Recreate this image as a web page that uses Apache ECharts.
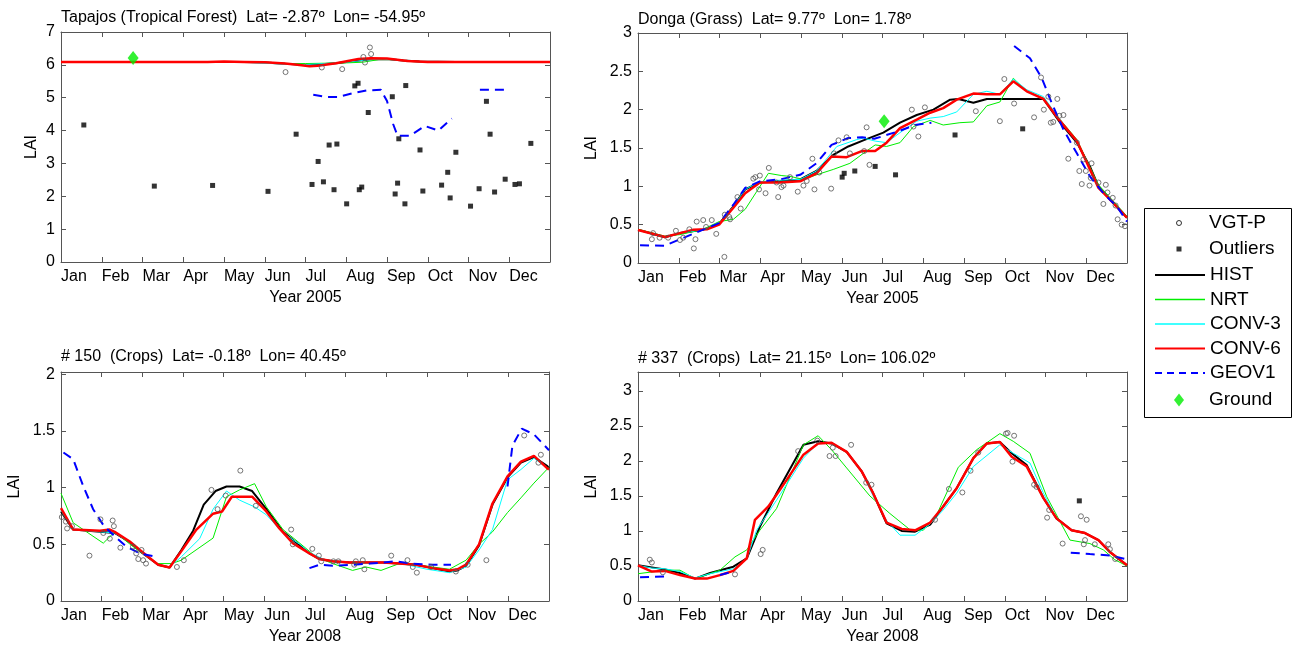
<!DOCTYPE html>
<html><head><meta charset="utf-8">
<script src="https://cdn.jsdelivr.net/npm/echarts@6/dist/echarts.min.js"></script>
<style>html,body{margin:0;padding:0;background:#fff}#c{width:1295px;height:653px}</style>
</head><body><div id="c"></div>
<script>
// ---------- tick labels / titles ----------
const monthLabels = ['Jan','Feb','Mar','Apr','May','Jun','Jul','Aug','Sep','Oct','Nov','Dec'];
const panelTitles = [
  'Tapajos (Tropical Forest)  Lat= -2.87º  Lon= -54.95º',
  'Donga (Grass)  Lat= 9.77º  Lon= 1.78º',
  '# 150  (Crops)  Lat= -0.18º  Lon= 40.45º',
  '# 337  (Crops)  Lat= 21.15º  Lon= 106.02º'
];
const panelYears = ['Year 2005','Year 2005','Year 2008','Year 2008'];

// ---------- Top-left: Tapajos ----------
const tlHIST = [[3.6,6.09],[4.5,6.09],[5.0,6.07],[5.5,6.03],[6.0,6.0],[6.4,6.02],[6.8,6.06],[7.2,6.12],[7.6,6.17],[8.0,6.18],[8.4,6.13],[8.8,6.1],[9.7,6.09]];
const tlNRT = [[3.6,6.09],[4.5,6.09],[5.0,6.07],[5.5,6.04],[6.0,6.04],[6.5,6.05],[7.0,6.06],[7.4,6.08],[7.8,6.16],[8.2,6.16],[8.6,6.1],[9.7,6.09]];
const tlCONV3 = [[3.6,6.08],[4.5,6.08],[5.0,6.05],[5.5,6.02],[6.0,6.01],[6.5,6.04],[7.0,6.08],[7.5,6.15],[7.9,6.18],[8.3,6.14],[8.7,6.1],[9.7,6.09]];
const tlCONV6 = [[0,6.09],[3.6,6.09],[4.0,6.1],[4.5,6.09],[5.0,6.08],[5.5,6.04],[5.8,6.0],[6.1,5.96],[6.3,5.97],[6.75,6.05],[7.3,6.18],[7.6,6.2],[8.0,6.19],[8.5,6.12],[9.0,6.09],[12,6.09]];
const tlGEOV1 = [[6.19,5.09],[6.52,5.02],[6.80,5.02],[7.17,5.14],[7.50,5.22],[7.85,5.24],[8.0,4.9],[8.15,4.2],[8.26,3.84],[8.56,3.84],[8.93,4.14],[9.26,4.0],[9.59,4.37],null,[10.28,5.24],[10.98,5.24]];
const tlVGT = [[5.51,5.78],[6.40,5.92],[6.90,5.87],[7.42,6.24],[7.46,6.07],[7.58,6.53],[7.61,6.33]];
const tlOutliers = [[0.56,4.17],[2.29,2.31],[3.72,2.33],[5.08,2.15],[5.77,3.89],[6.16,2.36],[6.31,3.06],[6.44,2.44],[6.58,3.56],[6.70,2.20],[6.77,3.59],[7.01,1.77],[7.21,5.36],[7.29,5.44],[7.32,2.20],[7.38,2.28],[7.54,4.55],[8.13,5.03],[8.20,2.07],[8.26,2.40],[8.29,3.75],[8.44,1.77],[8.46,5.37],[8.81,3.41],[8.88,2.16],[9.34,2.34],[9.49,2.73],[9.55,1.95],[9.69,3.34],[10.05,1.70],[10.26,2.23],[10.44,4.89],[10.53,3.89],[10.64,2.13],[10.90,2.52],[11.14,2.36],[11.25,2.38],[11.53,3.61]];
const tlGround = [[1.77,6.21]];

// ---------- Top-right: Donga ----------
const trHIST = [[0,0.435],[0.66,0.335],[1.03,0.39],[1.6,0.435],[1.99,0.51],[2.34,0.74],[2.63,0.96],[2.99,1.05],[3.48,1.065],[3.98,1.09],[4.38,1.2],[4.79,1.41],[5.16,1.52],[5.53,1.6],[6.02,1.7],[6.43,1.83],[6.84,1.93],[7.25,2.0],[7.66,2.13],[7.86,2.14],[8.23,2.09],[8.56,2.14],[8.97,2.14],[9.95,2.14],[10.36,1.83],[10.77,1.57],[11.09,1.26],[11.3,1.0],[11.58,0.83],[12,0.59]];
const trNRT = [[0,0.44],[0.66,0.35],[1.03,0.37],[1.6,0.44],[1.99,0.54],[2.34,0.57],[2.63,0.70],[2.91,0.93],[3.2,1.17],[3.53,1.14],[3.73,1.13],[4.06,1.09],[4.38,1.15],[4.79,1.22],[5.2,1.30],[5.53,1.43],[5.82,1.54],[6.10,1.52],[6.43,1.57],[6.76,1.78],[7.17,1.86],[7.49,1.80],[7.90,1.83],[8.23,1.84],[8.56,2.05],[8.88,2.10],[9.21,2.41],[9.54,2.24],[9.95,2.15],[10.36,1.87],[10.77,1.61],[11.3,1.02],[12,0.61]];
const trCONV3 = [[0,0.43],[0.66,0.34],[1.03,0.39],[1.6,0.435],[1.99,0.51],[2.34,0.74],[2.63,0.96],[2.99,1.06],[3.48,1.08],[3.98,1.09],[4.38,1.2],[4.88,1.52],[5.37,1.61],[5.53,1.63],[5.82,1.59],[6.10,1.57],[6.43,1.70],[6.84,1.85],[7.17,1.89],[7.49,1.91],[7.82,1.97],[8.23,2.2],[8.56,2.24],[8.88,2.2],[9.21,2.4],[9.54,2.26],[9.95,2.17],[10.36,1.87],[10.77,1.58],[11.3,0.99],[11.58,0.84],[12,0.59]];
const trCONV6 = [[0,0.43],[0.66,0.34],[1.03,0.39],[1.36,0.435],[1.69,0.44],[1.99,0.5],[2.34,0.72],[2.63,0.91],[2.99,1.05],[3.48,1.05],[3.98,1.065],[4.38,1.17],[4.75,1.39],[5.12,1.38],[5.49,1.46],[5.82,1.46],[6.10,1.57],[6.43,1.76],[6.84,1.87],[7.17,1.96],[7.49,2.02],[7.82,2.13],[8.23,2.21],[8.56,2.20],[8.88,2.20],[9.21,2.37],[9.54,2.24],[9.95,2.14],[10.36,1.85],[10.77,1.59],[11.3,0.98],[11.58,0.83],[12,0.59]];
const trGEOV1 = [[0.05,0.23],[0.66,0.226],[1.03,0.31],[1.6,0.435],[1.99,0.52],[2.34,0.76],[2.63,0.98],[2.99,1.065],[3.48,1.09],[3.98,1.15],[4.38,1.30],[4.75,1.54],[5.16,1.63],[5.5,1.64],[5.8,1.62],[6.4,1.72],[6.8,1.80],[7.2,1.83],null,[9.23,2.83],[9.62,2.67],[9.91,2.41],[10.15,2.09],[10.44,1.74],[10.77,1.43],[11.09,1.13],[11.42,0.91],[11.75,0.74],[12,0.54]];
const trVGT = [[0.34,0.31],[0.37,0.39],[0.53,0.33],[0.74,0.33],[0.93,0.42],[1.03,0.30],[1.11,0.33],[1.26,0.44],[1.37,0.19],[1.41,0.31],[1.44,0.54],[1.60,0.56],[1.67,0.47],[1.81,0.56],[1.92,0.38],[2.12,0.08],[2.13,0.63],[2.24,0.60],[2.26,0.57],[2.44,0.86],[2.52,0.71],[2.83,1.10],[2.88,1.12],[2.99,1.14],[2.97,0.96],[3.13,0.91],[3.21,1.24],[3.44,0.86],[3.40,1.05],[3.52,0.99],[3.57,1.01],[3.73,1.12],[3.92,0.93],[4.06,1.01],[4.14,1.07],[4.28,1.36],[4.33,0.96],[4.45,1.18],[4.74,0.97],[4.81,1.43],[4.92,1.60],[5.12,1.64],[5.20,1.43],[5.55,1.46],[5.61,1.77],[5.68,1.28],[6.72,2.0],[6.76,1.78],[6.88,1.65],[7.04,2.03],[8.29,1.98],[8.88,1.85],[8.99,2.40],[9.23,2.08],[9.72,1.90],[9.89,2.42],[9.96,2.0],[10.07,2.17],[10.13,1.83],[10.19,1.84],[10.29,2.14],[10.34,1.92],[10.44,1.93],[10.56,1.36],[10.77,1.57],[10.83,1.20],[10.89,1.03],[10.93,1.35],[10.99,1.20],[11.08,1.01],[11.11,1.11],[11.13,1.30],[11.30,1.05],[11.48,1.02],[11.42,0.77],[11.52,0.92],[11.65,0.85],[11.72,0.75],[11.77,0.57],[11.87,0.50],[11.95,0.48]];
const trOutliers = [[5.01,1.12],[5.06,1.17],[5.32,1.20],[5.82,1.26],[6.32,1.15],[7.78,1.67],[9.44,1.75]];
const trGround = [[6.04,1.85]];

// ---------- Bottom-left: #150 ----------
const blHIST = [[0,0.79],[0.3,0.63],[0.96,0.61],[1.32,0.60],[1.69,0.52],[1.94,0.44],[2.39,0.32],[2.67,0.295],[2.96,0.45],[3.25,0.62],[3.51,0.85],[3.8,0.97],[4.07,1.01],[4.39,1.01],[4.7,0.97],[5.05,0.81],[5.46,0.61],[5.70,0.54],[6.11,0.42],[6.36,0.37],[6.68,0.35],[7.09,0.34],[7.5,0.34],[7.91,0.34],[8.32,0.33],[8.73,0.32],[9.14,0.29],[9.55,0.26],[9.75,0.27],[9.96,0.31],[10.28,0.49],[10.61,0.85],[10.98,1.09],[11.31,1.22],[11.63,1.27],[11.96,1.19],[12,1.17]];
const blNRT = [[0,0.95],[0.30,0.69],[1.04,0.51],[1.32,0.61],[1.77,0.48],[2.35,0.33],[2.72,0.33],[2.96,0.36],[3.74,0.555],[4.07,0.92],[4.39,0.98],[4.76,1.035],[5.05,0.83],[5.46,0.63],[5.87,0.51],[6.27,0.39],[6.68,0.33],[7.17,0.27],[7.5,0.30],[7.87,0.27],[8.32,0.33],[8.73,0.32],[9.14,0.30],[9.55,0.28],[9.96,0.36],[10.28,0.50],[10.61,0.61],[10.98,0.78],[11.31,0.91],[11.63,1.04],[12,1.18]];
const blCONV3 = [[0,0.8],[0.3,0.63],[0.96,0.61],[1.32,0.60],[1.69,0.52],[1.94,0.44],[2.39,0.32],[2.67,0.30],[2.96,0.39],[3.41,0.55],[3.74,0.81],[4.07,0.97],[4.39,0.89],[4.76,0.83],[5.05,0.76],[5.46,0.60],[5.87,0.50],[6.11,0.43],[6.5,0.36],[7.0,0.34],[7.5,0.33],[8.0,0.34],[8.5,0.32],[9.0,0.28],[9.55,0.25],[9.96,0.30],[10.28,0.45],[10.61,0.63],[10.98,1.07],[11.31,1.16],[11.63,1.26],[11.96,1.17],[12,1.16]];
const blCONV6 = [[0,0.82],[0.3,0.63],[0.96,0.62],[1.2,0.63],[1.32,0.61],[1.69,0.525],[1.94,0.45],[2.18,0.38],[2.39,0.32],[2.67,0.295],[2.96,0.44],[3.33,0.63],[3.74,0.77],[3.96,0.79],[4.2,0.92],[4.7,0.92],[5.05,0.79],[5.37,0.64],[5.70,0.51],[6.11,0.42],[6.36,0.37],[6.68,0.35],[7.09,0.34],[7.5,0.34],[7.91,0.34],[8.32,0.33],[8.73,0.32],[9.14,0.29],[9.55,0.27],[9.75,0.28],[9.96,0.32],[10.28,0.50],[10.61,0.86],[10.98,1.10],[11.31,1.23],[11.63,1.28],[11.96,1.17],[12,1.16]];
const blGEOV1 = [[0.06,1.31],[0.30,1.25],[0.55,1.01],[0.79,0.81],[1.04,0.67],[1.32,0.57],[1.61,0.48],[1.94,0.42],[2.35,0.39],null,[6.11,0.29],[6.36,0.32],[6.68,0.31],[7.17,0.32],[7.6,0.33],[8.24,0.35],[8.65,0.33],[9.14,0.32],[9.59,0.32],null,[10.98,1.01],[11.10,1.37],[11.33,1.52],[11.63,1.47],[12,1.33]];
const blVGT = [[0.02,0.74],[0.12,0.70],[0.15,0.64],[0.27,0.66],[0.70,0.40],[0.97,0.72],[1.04,0.60],[1.20,0.55],[1.27,0.71],[1.30,0.66],[1.46,0.47],[1.77,0.48],[1.85,0.42],[1.90,0.37],[1.98,0.45],[2.02,0.36],[2.09,0.33],[2.85,0.30],[3.02,0.36],[3.70,0.98],[3.85,0.81],[4.05,0.93],[4.41,1.15],[4.79,0.84],[5.66,0.63],[5.70,0.50],[6.18,0.46],[6.34,0.40],[6.40,0.35],[6.70,0.35],[6.82,0.35],[7.21,0.32],[7.25,0.35],[7.42,0.36],[7.46,0.28],[8.12,0.40],[8.52,0.36],[8.65,0.30],[8.75,0.25],[9.10,0.30],[9.71,0.26],[10.0,0.32],[10.46,0.36],[11.39,1.46],[11.74,1.22],[11.80,1.29]];

// ---------- Bottom-right: #337 ----------
const brHIST = [[0,0.51],[0.34,0.48],[0.66,0.45],[1.03,0.40],[1.40,0.32],[1.77,0.40],[2.34,0.49],[2.67,0.61],[2.99,1.06],[3.40,1.54],[4.06,2.23],[4.42,2.28],[4.75,2.25],[5.12,2.13],[5.49,1.85],[5.77,1.54],[6.10,1.11],[6.47,1.0],[6.80,0.99],[7.17,1.09],[7.49,1.35],[7.82,1.61],[8.23,2.04],[8.56,2.25],[8.88,2.27],[9.17,2.11],[9.54,1.94],[9.95,1.47],[10.27,1.18],[10.64,1.01],[10.97,0.97],[11.30,0.87],[11.58,0.70],[12,0.51]];
const brNRT = [[0,0.39],[0.69,0.44],[1.03,0.44],[1.40,0.32],[2.01,0.44],[2.38,0.63],[2.67,0.73],[2.99,1.01],[3.40,1.32],[4.06,2.23],[4.42,2.36],[4.75,2.16],[5.12,1.90],[5.69,1.50],[6.18,1.25],[6.67,1.02],[7.0,1.01],[7.33,1.23],[7.86,1.91],[8.31,2.16],[8.88,2.39],[9.21,2.28],[9.62,2.11],[10.03,1.49],[10.6,0.87],[11.09,0.82],[11.42,0.73],[11.70,0.59],[12,0.50]];
const brCONV3 = [[0,0.51],[0.34,0.47],[0.66,0.46],[1.03,0.42],[1.40,0.33],[1.77,0.39],[2.34,0.46],[2.67,0.60],[2.91,1.01],[3.4,1.44],[4.06,2.04],[4.42,2.26],[4.75,2.25],[5.12,2.13],[5.49,1.85],[5.77,1.50],[6.10,1.15],[6.43,0.94],[6.80,0.94],[7.17,1.10],[7.49,1.3],[7.82,1.54],[8.23,1.92],[8.88,2.23],[9.21,2.11],[9.62,1.97],[9.95,1.54],[10.27,1.18],[10.64,1.01],[10.97,0.97],[11.30,0.87],[11.58,0.70],[12,0.51]];
const brCONV6 = [[0,0.51],[0.34,0.42],[0.66,0.43],[1.03,0.37],[1.40,0.32],[1.69,0.32],[2.01,0.37],[2.34,0.43],[2.67,0.61],[2.87,1.16],[3.20,1.35],[3.65,1.73],[4.06,2.09],[4.42,2.25],[4.75,2.26],[5.12,2.13],[5.49,1.85],[5.77,1.54],[6.10,1.12],[6.47,1.03],[6.80,1.01],[7.17,1.12],[7.49,1.35],[7.82,1.61],[8.23,2.04],[8.56,2.25],[8.88,2.27],[9.17,2.06],[9.54,1.92],[9.95,1.47],[10.27,1.18],[10.64,1.01],[10.97,0.97],[11.30,0.87],[11.58,0.70],[12,0.51]];
const brGEOV1 = [[0.05,0.34],[0.66,0.35],null,[2.01,0.37],[2.34,0.42],null,[10.62,0.69],[11.09,0.67],[11.58,0.65],[11.95,0.60]];
const brVGT = [[0.29,0.59],[0.34,0.55],[0.61,0.41],[2.38,0.38],[3.01,0.67],[3.06,0.73],[3.93,2.14],[4.40,2.29],[4.70,2.07],[4.78,2.19],[4.85,2.07],[5.23,2.23],[5.60,1.69],[5.73,1.66],[7.29,1.16],[7.63,1.60],[7.96,1.55],[8.16,1.86],[8.35,2.12],[9.03,2.39],[9.07,2.40],[9.23,2.36],[9.19,1.99],[9.72,1.66],[9.78,1.63],[10.04,1.19],[10.09,1.30],[10.42,0.82],[10.87,1.21],[10.94,0.81],[10.97,0.87],[11.01,1.16],[11.21,0.81],[11.54,0.81],[11.58,0.74],[11.71,0.60]];
const brOutliers = [[10.83,1.43]];

// ---------- styling ----------
const FONT = '"Liberation Sans", Arial, sans-serif';
const AX = '#555';
const grids = [
  {left:61, top:32, width:489, height:230},
  {left:638, top:33, width:489, height:230},
  {left:61, top:372, width:488, height:229},
  {left:638, top:372, width:489, height:229}
];
const yCfg = [
  {max:7, interval:1, gap:21},
  {max:3, interval:0.5, gap:38},
  {max:2.02, interval:0.5, gap:38},
  {max:3.27, interval:0.5, gap:38}
];
const titleTops = [10, 12, 349, 351];

const xAxes = [], yAxes = [], series = [], titles = [];
grids.forEach((g, i) => {
  titles.push({text: panelTitles[i], left: g.left, top: titleTops[i], padding: 0,
    textStyle: {fontSize: 16, fontWeight: 'normal', color: '#000', fontFamily: FONT}});
  const line = {show: true, onZero: false, lineStyle: {color: AX, width: 1}};
  const tick = {show: true, inside: true, length: 5, lineStyle: {color: AX, width: 1}};
  xAxes.push({type: 'value', gridIndex: i, min: 0, max: 12, interval: 1, position: 'bottom',
    name: panelYears[i], nameLocation: 'middle', nameGap: 28,
    nameTextStyle: {fontSize: 16, color: '#000', fontFamily: FONT},
    axisLine: line, axisTick: tick, splitLine: {show: false},
    axisLabel: {show: true, align: 'left', margin: 7, fontSize: 16, color: '#000', fontFamily: FONT,
      formatter: v => monthLabels[Math.round(v)] || ''}});
  xAxes.push({type: 'value', gridIndex: i, min: 0, max: 12, interval: 1, position: 'top',
    axisLine: line, axisTick: tick, axisLabel: {show: false}, splitLine: {show: false}});
  const yc = yCfg[i];
  const fmt = v => {
    const k = v / yc.interval;
    if (Math.abs(k - Math.round(k)) > 1e-6) return '';
    return String(Math.round(v * 10) / 10);
  };
  yAxes.push({type: 'value', gridIndex: i, min: 0, max: yc.max, interval: yc.interval, position: 'left',
    name: 'LAI', nameLocation: 'middle', nameGap: yc.gap, nameRotate: 90,
    nameTextStyle: {fontSize: 16, color: '#000', fontFamily: FONT},
    axisLine: line, axisTick: tick, splitLine: {show: false},
    axisLabel: {show: true, margin: 6, fontSize: 16, color: '#000', fontFamily: FONT, formatter: fmt}});
  yAxes.push({type: 'value', gridIndex: i, min: 0, max: yc.max, interval: yc.interval, position: 'right',
    axisLine: line, axisTick: tick, axisLabel: {show: false}, splitLine: {show: false}});
});

function segments(arr) {
  const out = [[]];
  arr.forEach(p => { if (p === null) out.push([]); else out[out.length - 1].push(p); });
  return out.filter(s => s.length);
}
const lineStyles = {
  'HIST':   {color: '#000000', width: 2},
  'NRT':    {color: '#00ee00', width: 1},
  'CONV-3': {color: '#00ffff', width: 1},
  'CONV-6': {color: '#ff0000', width: 2.5},
  'GEOV1':  {color: '#0000ff', width: 2, type: [9, 6]}
};
function addLine(name, data, gi) {
  const st = lineStyles[name];
  segments(data).forEach(seg => series.push({
    type: 'line', name, xAxisIndex: gi * 2, yAxisIndex: gi * 2, data: seg,
    symbol: 'none', showSymbol: false, silent: true, animation: false, z: 3,
    color: st.color, lineStyle: {color: st.color, width: st.width, type: st.type || 'solid'}
  }));
}
function addScatter(name, data, gi) {
  let o = {type: 'scatter', name, xAxisIndex: gi * 2, yAxisIndex: gi * 2, data, silent: true, animation: false, z: 4};
  if (name === 'VGT-P') Object.assign(o, {symbol: 'circle', symbolSize: 5,
    itemStyle: {color: 'rgba(255,255,255,0)', borderColor: '#555', borderWidth: 1}});
  if (name === 'Outliers') Object.assign(o, {symbol: 'rect', symbolSize: 5, itemStyle: {color: '#000'}});
  if (name === 'Ground') Object.assign(o, {symbol: 'diamond', symbolSize: [11, 14], itemStyle: {color: '#00ee00'}});
  series.push(o);
}
const panels = [
  {HIST: tlHIST, NRT: tlNRT, 'CONV-3': tlCONV3, 'CONV-6': tlCONV6, GEOV1: tlGEOV1, 'VGT-P': tlVGT, Outliers: tlOutliers, Ground: tlGround},
  {HIST: trHIST, NRT: trNRT, 'CONV-3': trCONV3, 'CONV-6': trCONV6, GEOV1: trGEOV1, 'VGT-P': trVGT, Outliers: trOutliers, Ground: trGround},
  {HIST: blHIST, NRT: blNRT, 'CONV-3': blCONV3, 'CONV-6': blCONV6, GEOV1: blGEOV1, 'VGT-P': blVGT},
  {HIST: brHIST, NRT: brNRT, 'CONV-3': brCONV3, 'CONV-6': brCONV6, GEOV1: brGEOV1, 'VGT-P': brVGT, Outliers: brOutliers}
];
['VGT-P','Outliers'].forEach(n => panels.forEach((p, i) => { if (p[n]) addScatter(n, p[n], i); }));
['HIST','NRT','CONV-3','CONV-6','GEOV1'].forEach(n => panels.forEach((p, i) => addLine(n, p[n], i)));
panels.forEach((p, i) => { if (p.Ground) addScatter('Ground', p.Ground, i); });

const legTxt = {fontSize: 19, color: '#000', fontFamily: FONT};
const hideSym = {opacity: 0, color: 'rgba(0,0,0,0)', borderWidth: 0};
const legends = [
  {orient: 'vertical', left: 1176, top: 213.5, itemWidth: 50, itemHeight: 5, itemGap: 7, padding: 0,
   selectedMode: false, textStyle: legTxt,
   data: [
     {name: 'VGT-P', icon: 'circle', itemStyle: {color: '#fff', borderColor: '#000', borderWidth: 1}},
     {name: 'Outliers', icon: 'path://M0,0L1,0L1,1L0,1Z', itemStyle: {color: '#000', borderWidth: 0}}
   ]},
  {orient: 'vertical', left: 1154, top: 265.5, itemWidth: 50, itemHeight: 5, itemGap: 5.5, padding: 0,
   selectedMode: false, textStyle: legTxt, itemStyle: hideSym,
   data: [
     {name: 'HIST', lineStyle: {color: '#000000', width: 2}, itemStyle: hideSym},
     {name: 'NRT', lineStyle: {color: '#00ee00', width: 1.3}, itemStyle: hideSym},
     {name: 'CONV-3', lineStyle: {color: '#00ffff', width: 1.3}, itemStyle: hideSym},
     {name: 'CONV-6', lineStyle: {color: '#ff0000', width: 2}, itemStyle: hideSym},
     {name: 'GEOV1', lineStyle: {color: '#0000ff', width: 1.8, type: [7, 5]}, itemStyle: hideSym}
   ]},
  {orient: 'vertical', left: 1174, top: 390.5, itemWidth: 50, itemHeight: 13, padding: 0,
   selectedMode: false, textStyle: legTxt,
   data: [{name: 'Ground', icon: 'path://M5,0L10,6.5L5,13L0,6.5Z'}]}
];

const chart = echarts.init(document.getElementById('c'), null, {renderer: 'canvas'});
chart.setOption({
  backgroundColor: '#fff',
  animation: false,
  title: titles,
  grid: grids.map(g => Object.assign({outerBoundsMode: 'none', containLabel: false}, g)),
  xAxis: xAxes,
  yAxis: yAxes,
  legend: legends,
  graphic: [{type: 'rect', left: 1144, top: 208, z: -10,
    shape: {x: 0.5, y: 0.5, width: 147, height: 209},
    style: {fill: '#fff', stroke: '#000', lineWidth: 1}}],
  series
});
</script></body></html>
